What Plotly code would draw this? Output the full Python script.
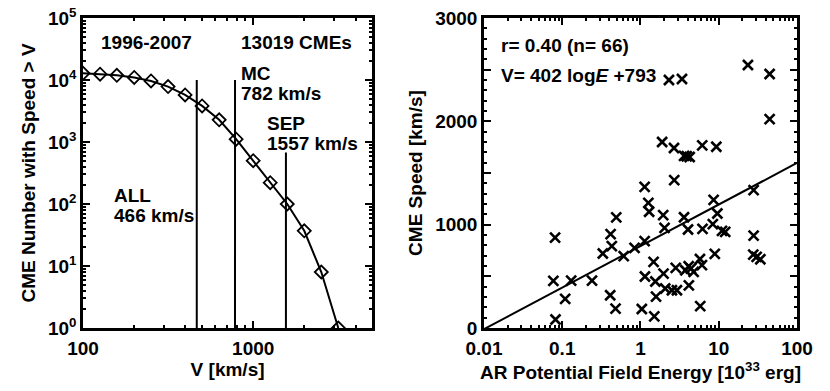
import plotly.graph_objects as go
from plotly.subplots import make_subplots

# left panel: cumulative CME number vs speed (1996-2007)
speed_bins = [100, 126, 158, 200, 251, 316, 398, 501, 631, 794, 1000, 1259, 1585, 1995, 2512, 3162]
cme_counts = [12800, 12400, 11900, 11000, 9650, 7830, 5740, 3820, 2280, 1110, 500, 221, 100, 37, 8, 1]

marker_speeds = [466, 782, 1557]
marker_tops = [10000, 10000, 680]

# right panel: CME speed vs AR potential field energy
energy = [2.31, 3.39, 23.6, 44.7, 44.7, 1.89, 2.68, 3.6, 4.25, 6.15, 9.31, 1.13, 2.7, 27.9,
          8.6, 1.26, 1.29, 1.95, 3.6, 0.49, 9.6, 2.03, 4.05, 6.2, 8.4, 11.0, 12.1, 0.081,
          0.415, 0.43, 0.33, 0.61, 0.84, 1.13, 27.9, 27.6, 34.0, 8.9, 1.47, 2.82, 3.74, 4.13,
          4.78, 5.75, 6.1, 1.97, 1.14, 1.55, 2.07, 2.52, 2.92, 4.15, 1.58, 5.8, 1.5, 1.04,
          0.48, 0.41, 0.24, 0.13, 0.077, 0.109, 0.082, 4.4, 3.9, 30.5]
cme_speed = [2400, 2410, 2545, 2458, 2022, 1800, 1742, 1665, 1655, 1768, 1754, 1365, 1431, 1334,
             1240, 1211, 1125, 1092, 1072, 1070, 1108, 969, 953, 959, 1005, 940, 930, 874,
             908, 793, 721, 695, 775, 840, 894, 710, 665, 718, 640, 582, 559, 598,
             543, 668, 608, 526, 498, 450, 382, 365, 365, 412, 303, 211, 113, 184,
             188, 317, 458, 458, 456, 282, 82, 575, 1662, 688]
fit_energy = [0.01, 100]
fit_speed = [-11, 1597]

# tick positions
left_x_major = [100, 1000]
left_x_minor = [200, 300, 400, 500, 600, 700, 800, 900, 2000, 3000, 4000, 5000]
left_y_major = [1, 10, 100, 1000, 10000, 100000]
left_y_minor = [m * 10 ** k for k in range(5) for m in range(2, 10)]
right_x_major = [0.01, 0.1, 1, 10, 100]
right_x_minor = [m * 10.0 ** k for k in range(-2, 2) for m in range(2, 10)]
right_y_major = [0, 500, 1000, 1500, 2000, 2500, 3000]
right_y_labels = ['0', '', '1000', '', '2000', '', '3000']

FONT = 'Liberation Sans'
BOLD = dict(family=FONT, size=19, color='black', weight='bold')

fig = make_subplots(rows=1, cols=2, horizontal_spacing=0.1)

fig.add_trace(go.Scatter(x=speed_bins, y=cme_counts, mode='lines+markers',
                         line=dict(color='black', width=2),
                         marker=dict(symbol='diamond-open', size=10, color='black',
                                     line=dict(width=1.8, color='black'))), row=1, col=1)
for v, top in zip(marker_speeds, marker_tops):
    fig.add_trace(go.Scatter(x=[v, v], y=[1, top], mode='lines',
                             line=dict(color='black', width=2)), row=1, col=1)

fig.add_trace(go.Scatter(x=energy, y=cme_speed, mode='markers',
                         marker=dict(symbol='x-thin-open', size=10, color='black',
                                     line=dict(width=2.6, color='black'))), row=1, col=2)
fig.add_trace(go.Scatter(x=fit_energy, y=fit_speed, mode='lines',
                         line=dict(color='black', width=2)), row=1, col=2)

axis_common = dict(showline=True, linecolor='black', linewidth=2.5, mirror='allticks',
                   ticks='inside', ticklen=7, tickwidth=2, tickcolor='black',
                   showgrid=False, zeroline=False, automargin=False,
                   tickfont=BOLD, title_font=BOLD)
minor_common = dict(ticks='inside', ticklen=3.5, tickwidth=1.5, tickcolor='black',
                    showgrid=False, tickmode='array')

fig.update_xaxes(axis_common, ticklabelstandoff=1)
fig.update_yaxes(axis_common)

fig.update_xaxes(type='log', range=[2, 3.699], tickvals=left_x_major, ticktext=['100', '1000'],
                 minor=dict(minor_common, tickvals=left_x_minor),
                 title_text='V [km/s]', title_standoff=0, domain=[0, 0.405], row=1, col=1)
fig.update_yaxes(type='log', range=[0, 5], tickvals=left_y_major,
                 ticktext=['10<sup>%d</sup>' % i for i in range(6)],
                 minor=dict(minor_common, tickvals=left_y_minor),
                 title_text='CME Number with Speed > V', title_standoff=8, row=1, col=1)

fig.update_xaxes(type='log', range=[-2, 2], tickvals=right_x_major,
                 ticktext=['0.01', '0.1', '1', '10', '100'],
                 minor=dict(minor_common, tickvals=right_x_minor),
                 title_text='AR Potential Field Energy [10<sup>33</sup> erg]', title_standoff=0,
                 domain=[0.5616, 1], row=1, col=2)
fig.update_yaxes(range=[0, 3000], tickvals=right_y_major, ticktext=right_y_labels,
                 minor=dict(minor_common, tickmode='linear', tick0=0, dtick=100),
                 title_text='CME Speed [km/s]', title_standoff=8, row=1, col=2)

notes = [
    ('x', 'y', 2.371, 4.60, '1996-2007', 'center'),
    ('x', 'y', 3.254, 4.60, '13019 CMEs', 'center'),
    ('x', 'y', 2.922, 4.11, 'MC', 'left'),
    ('x', 'y', 2.922, 3.79, '782 km/s', 'left'),
    ('x', 'y', 3.074, 3.30, 'SEP', 'left'),
    ('x', 'y', 3.074, 2.98, '1557 km/s', 'left'),
    ('x', 'y', 2.177, 2.13, 'ALL', 'left'),
    ('x', 'y', 2.177, 1.81, '466 km/s', 'left'),
    ('x2', 'y2', -1.80, 2730, 'r= 0.40 (n= 66)', 'left'),
    ('x2', 'y2', -1.80, 2439, 'V= 402 log<i>E</i> +793', 'left'),
]
for xr, yr, x, y, txt, anc in notes:
    fig.add_annotation(xref=xr, yref=yr, x=x, y=y, text=txt, showarrow=False,
                       xanchor=anc, yanchor='middle', align='left', font=BOLD,
                       borderpad=0)

fig.update_layout(width=830, height=391, showlegend=False,
                  plot_bgcolor='white', paper_bgcolor='white',
                  margin=dict(l=83, r=33, t=18, b=63),
                  font=dict(family=FONT, color='black'))

# page body has a default 8px margin; drop it so the figure sits at the window corner
fig.write_html('out.html', config={'displayModeBar': False},
               post_script="document.body.style.margin='0';")
